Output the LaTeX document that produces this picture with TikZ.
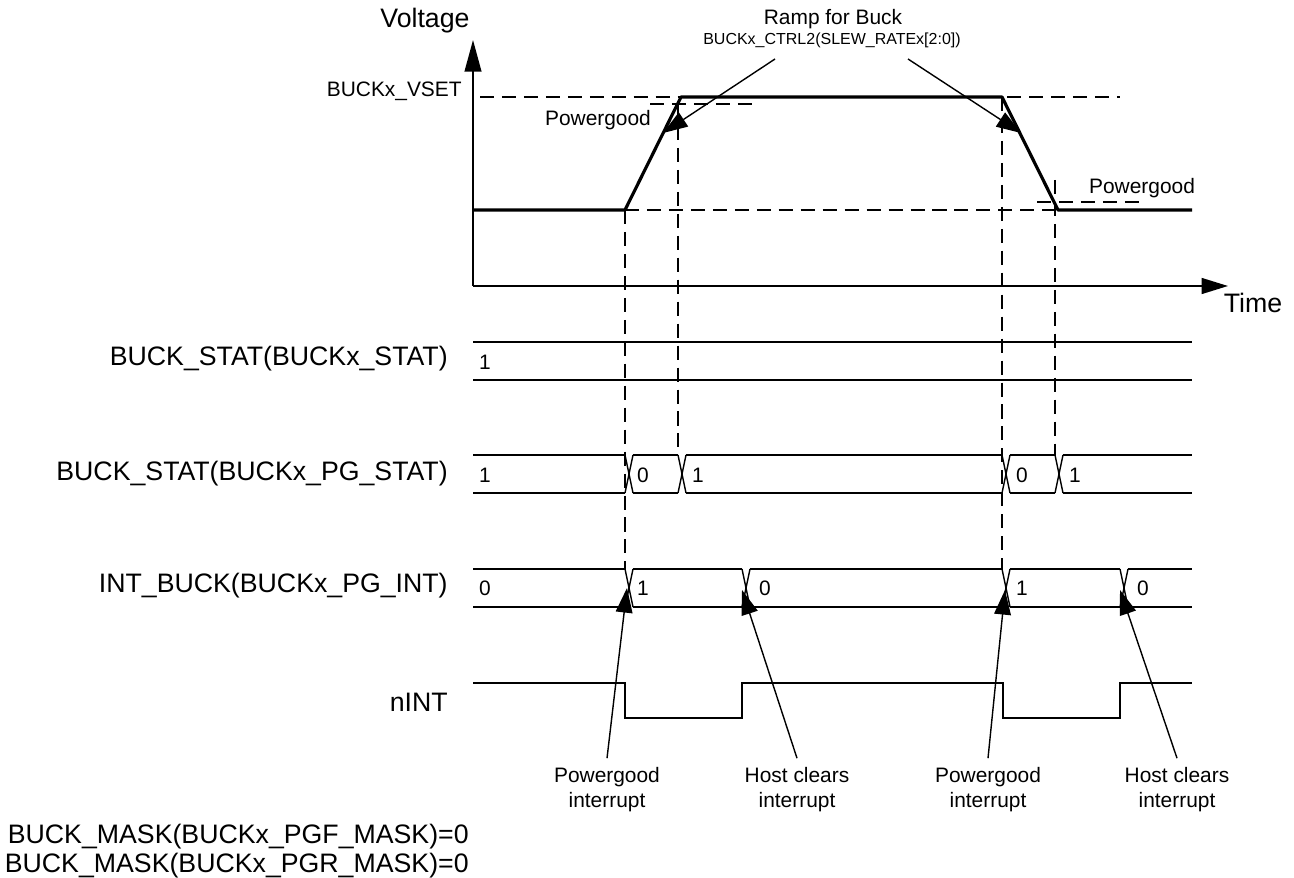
\documentclass[tikz,border=0pt]{standalone}
\usepackage{fontspec}
\setmainfont{Liberation Sans}
\usetikzlibrary{arrows.meta}

\tikzset{
  big/.style={font=\fontsize{15.2}{17}\selectfont, inner sep=0pt},
  mid/.style={font=\fontsize{11.9}{14.2}\selectfont, inner sep=0pt},
  tiny/.style={font=\fontsize{9.1}{11}\selectfont, inner sep=0pt},
  guide/.style={line width=0.8pt, dash pattern=on 8pt off 4.5pt},
  wave/.style={line width=1.8pt, line join=round},
  sig/.style={line width=0.8pt},
  axis/.style={line width=1.1pt, -{Triangle[length=15pt,width=9pt]}},
  callout/.style={line width=0.8pt, -{Triangle[length=14pt,width=9.5pt]}}
}

\begin{document}
\begin{tikzpicture}[x=0.02cm, y=-0.02cm]
\useasboundingbox (0,0) rectangle (1294,878);

\coordinate (o) at (473,286);
\coordinate (vtop) at (473,40);
\coordinate (ttip) at (1228,286);
\draw[axis, -{Triangle[length=18pt,width=9.5pt]}] (o) -- (vtop);
\draw[axis] (o) -- (ttip);
\node[big, anchor=base] (volt) at (425,28) {Voltage};
\node[big, anchor=base] (time) at (1253,313) {Time};
\node[mid, anchor=base east] (vset) at (462,97) {BUCKx\_VSET};

\draw[guide] (480,97) -- (1120,97);
\draw[guide] (625,210) -- (1058,210);
\draw[guide] (650,104) -- (757,104);
\draw[guide] (1037,202) -- (1143,202);
\draw[guide] (625,210) -- (625,569);
\draw[guide] (678,104) -- (678,455);
\draw[guide] (1002,97) -- (1002,569);
\draw[guide] (1055,180) -- (1055,455);

\draw[wave] (473,210) -- (625,210) -- (681,97) -- (1002,97) -- (1058,210) -- (1192,210);

\node[mid, anchor=base] (pgup) at (598,126) {Powergood};
\node[mid, anchor=base] (pgdn) at (1142,194) {Powergood};
\node[mid, anchor=base] (ramp) at (833,25) {Ramp for Buck};
\node[tiny, anchor=base] (slew) at (832,45) {BUCKx\_CTRL2(SLEW\_RATEx[2:0])};
\coordinate (slewL) at (775,59);
\coordinate (slewR) at (908,59);
\coordinate (rampUp) at (663,133);
\coordinate (rampDn) at (1021,133);
\draw[callout] (slewL) -- (rampUp);
\draw[callout] (slewR) -- (rampDn);

\node[big, anchor=base east] (statlbl) at (448,365) {BUCK\_STAT(BUCKx\_STAT)};
\node[big, anchor=base east] (pglbl) at (448,480) {BUCK\_STAT(BUCKx\_PG\_STAT)};
\node[big, anchor=base east] (intlbl) at (448,592) {INT\_BUCK(BUCKx\_PG\_INT)};
\node[big, anchor=base east] (nintlbl) at (448,711) {nINT};

\draw[sig] (473,342) -- (1192,342);
\draw[sig] (473,380) -- (1192,380);
\node[mid, anchor=base] (stat1) at (485,369) {1};

\foreach \l/\r in {473/625, 633/678, 686/1002, 1010/1055, 1063/1192}{
  \draw[sig] (\l,455) -- (\r,455);
  \draw[sig] (\l,493) -- (\r,493);
}
\foreach \x in {625,678,1002,1055}{
  \draw[sig] (\x,455) -- (\x+8,493);
  \draw[sig] (\x,493) -- (\x+8,455);
}
\foreach \x/\v in {485/1,643/0,698/1,1022/0,1075/1}{
  \node[mid, anchor=base] (pg\x) at (\x,482) {\v};
}

\foreach \l/\r in {473/625, 633/742, 750/1002, 1010/1120, 1128/1192}{
  \draw[sig] (\l,569) -- (\r,569);
  \draw[sig] (\l,607) -- (\r,607);
}
\foreach \x in {625,742,1002,1120}{
  \draw[sig] (\x,569) -- (\x+8,607);
  \draw[sig] (\x,607) -- (\x+8,569);
}
\foreach \x/\v in {485/0,643/1,765/0,1022/1,1143/0}{
  \node[mid, anchor=base] (int\x) at (\x,595) {\v};
}

\draw[sig] (473,683) -- (625,683) -- (625,718) -- (742,718) -- (742,683)
  -- (1003,683) -- (1003,718) -- (1120,718) -- (1120,683) -- (1192,683);

\node[mid, align=center, anchor=north] (pgi1) at (607,767) {Powergood\\interrupt};
\node[mid, align=center, anchor=north] (hc1) at (797,767) {Host clears\\interrupt};
\node[mid, align=center, anchor=north] (pgi2) at (988,767) {Powergood\\interrupt};
\node[mid, align=center, anchor=north] (hc2) at (1177,767) {Host clears\\interrupt};
\coordinate (tip1) at (627,588);
\coordinate (tip2) at (742,590);
\coordinate (tip3) at (1005,590);
\coordinate (tip4) at (1120,590);
\draw[callout] ([yshift=5pt]pgi1.north) -- (tip1);
\draw[callout] ([yshift=5pt]hc1.north) -- (tip2);
\draw[callout] ([yshift=5pt]pgi2.north) -- (tip3);
\draw[callout] ([yshift=5pt]hc2.north) -- (tip4);

\node[big, anchor=base east] (maskf) at (469,843) {BUCK\_MASK(BUCKx\_PGF\_MASK)=0};
\node[big, anchor=base east] (maskr) at (469,872) {BUCK\_MASK(BUCKx\_PGR\_MASK)=0};

\end{tikzpicture}
\end{document}
